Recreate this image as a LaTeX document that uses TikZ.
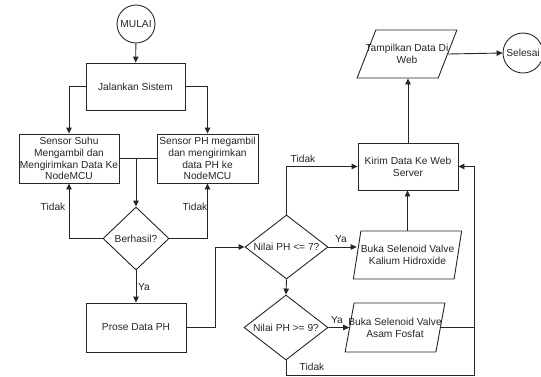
\documentclass[tikz,border=0pt]{standalone}
\usepackage{fontspec}
\setmainfont{Liberation Sans}
\usetikzlibrary{shapes.geometric,arrows.meta}
\begin{document}
\begin{tikzpicture}[x=1pt,y=-1pt,
  every node/.style={font=\fontsize{10.2}{11.7}\selectfont, text=black!85},
  line/.style={draw=black!85, line width=0.9pt},
  arr/.style={line, -{Triangle[length=6pt,width=5.5pt]}},
  proc/.style={line, rectangle, inner sep=0pt, align=center},
  term/.style={line, circle, inner sep=0pt},
  dec/.style={line, diamond, inner sep=0pt},
  io/.style={line, trapezium, trapezium left angle=72, trapezium right angle=108,
     trapezium stretches=true, inner sep=0pt, align=center},
  lbl/.style={inner sep=0pt}
]
\useasboundingbox (0,0) rectangle (541,376);
\node[term, minimum size=38pt] (mulai) at (136,24) {MULAI};
\node[proc, minimum width=99pt, minimum height=47pt] (jalan) at (135.5,86.5) {Jalankan Sistem};
\node[proc, minimum width=100pt, minimum height=49pt] (suhu) at (69,158.5) {Sensor Suhu\\Mengambil dan\\Mengirimkan Data Ke\\NodeMCU};
\node[proc, minimum width=101pt, minimum height=49pt] (phs) at (207.5,158.5) {Sensor PH megambil\\dan mengirimkan\\data PH ke\\NodeMCU};
\node[dec, minimum width=66pt, minimum height=63pt] (berhasil) at (136,238.5) {\makebox[0pt]{Berhasil?}};
\node[proc, minimum width=100pt, minimum height=49pt] (prose) at (136,327.5) {Prose Data PH};
\node[dec, minimum width=83pt, minimum height=64pt] (ph7) at (286.5,247) {\makebox[0pt]{Nilai PH <= 7?}};
\node[dec, minimum width=84pt, minimum height=65pt] (ph9) at (286,327.5) {\makebox[0pt]{Nilai PH >= 9?}};
\node[io, minimum width=109pt, minimum height=48pt] (kalium) at (407.5,255) {\makebox[0pt]{Buka Selenoid Valve}\\Kalium Hidroxide};
\node[io, minimum width=100pt, minimum height=49pt] (asam) at (395,327.5) {\makebox[0pt]{Buka Selenoid Valve}\\Asam Fosfat};
\node[proc, minimum width=100pt, minimum height=47pt] (kirim) at (408,166.5) {Kirim Data Ke Web\\Server};
\node[io, minimum width=100pt, minimum height=48pt] (tampil) at (407,54) {\makebox[0pt]{Tampilkan Data Di}\\Web};
\node[term, minimum size=40pt] (selesai) at (523,53) {Selesai};

\coordinate (j) at (berhasil.north |- suhu.east);
\coordinate (c) at (474,327.5);

\draw[arr] (mulai) -- (jalan);
\draw[arr] (jalan.west) -| (suhu.north);
\draw[arr] (jalan.east) -| (phs.north);
\draw[line] (suhu.east) -- (phs.west);
\draw[arr] (j) -- (berhasil.north);
\draw[arr] (berhasil.west) -| (suhu.south);
\draw[arr] (berhasil.east) -| (phs.south);
\draw[arr] (berhasil.south) -- (prose.north);
\draw[arr] (prose.east) -- ++(29,0) |- (ph7.west);
\draw[arr] (ph7.east) -- (ph7.east -| kalium.west);
\draw[arr] (ph7.south) -- (ph9.north);
\draw[arr] (ph9.east) -- (asam.west);
\draw[arr] (kalium.north) -- (kalium.north |- kirim.south);
\draw[arr] (ph7.north) |- (kirim.west);
\draw[line] (asam.east) -- (c);
\draw[arr] (c) |- (kirim.east);
\draw[line] (ph9.south) -- ++(0,15) -| (c);
\draw[arr] (kirim.north) -- (kirim.north |- tampil.south);
\draw[arr] (tampil.east) -- (selesai.west);

\node[lbl] (t1) at (53,207) {Tidak};
\node[lbl] (t2) at (195,207) {Tidak};
\node[lbl] (y1) at (144,287) {Ya};
\node[lbl] (y2) at (341,239) {Ya};
\node[lbl] (y3) at (337,320) {Ya};
\node[lbl] (t3) at (303,159) {Tidak};
\node[lbl] (t4) at (312,367) {Tidak};
\end{tikzpicture}
\end{document}
